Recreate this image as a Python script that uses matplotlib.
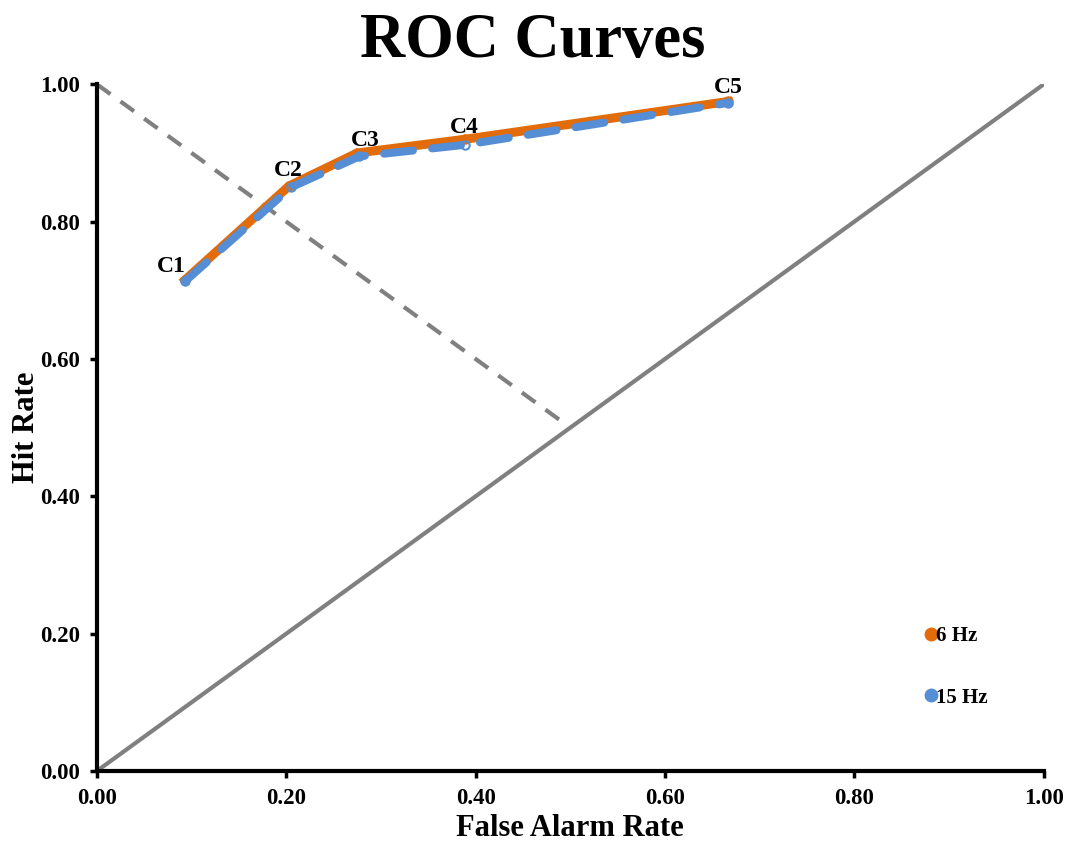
import matplotlib
matplotlib.use("Agg")
import matplotlib.pyplot as plt
from matplotlib.lines import Line2D

point_labels = ["C1", "C2", "C3", "C4", "C5"]
far_6hz = [0.093, 0.203, 0.275, 0.389, 0.667]
hit_6hz = [0.715, 0.852, 0.900, 0.920, 0.975]
far_15hz = [0.093, 0.205, 0.277, 0.389, 0.667]
hit_15hz = [0.713, 0.850, 0.895, 0.912, 0.973]
chance_x = [0.0, 1.0]
chance_y = [0.0, 1.0]
neg_diag_x = [0.0, 0.5]
neg_diag_y = [1.0, 0.5]
ticks = [0.0, 0.2, 0.4, 0.6, 0.8, 1.0]

plt.rcParams['font.family'] = ['Liberation Serif', 'DejaVu Serif']
plt.rcParams['font.weight'] = 'bold'

fig = plt.figure(figsize=(10.65, 8.43), dpi=100)
ax = fig.add_axes([0.091, 0.0854, 0.889, 0.8146])

orange = '#E36C0A'
blue = '#558ED5'
grey = '#808080'

ax.plot(chance_x, chance_y, color=grey, lw=3, zorder=1)
ax.plot(neg_diag_x, neg_diag_y, color=grey, lw=3, ls=(0, (4, 3)), zorder=1)

ax.plot(far_6hz, hit_6hz, color=orange, lw=6.5, marker='o', ms=6,
        mfc='none', mec=orange, mew=1.5, zorder=2, solid_joinstyle='round')
ax.plot(far_15hz, hit_15hz, color=blue, lw=5.8, ls=(0, (3.6, 2.4)),
        dash_capstyle='round', marker='o', ms=6, mfc='none', mec=blue,
        mew=1.5, zorder=3)

offsets = [(-0.014, 0.02), (-0.001, 0.022), (0.008, 0.018), (-0.001, 0.017), (0.0, 0.02)]
for lab, x, y, (dx, dy) in zip(point_labels, far_6hz, hit_6hz, offsets):
    ax.text(x + dx, y + dy, lab, ha='center', va='center', fontsize=17,
            fontweight='bold')

ax.set_xlim(0, 1)
ax.set_ylim(0, 1)
ax.set_xticks(ticks)
ax.set_yticks(ticks)
ax.set_xticklabels([f"{t:.2f}" for t in ticks])
ax.set_yticklabels([f"{t:.2f}" for t in ticks])
ax.tick_params(labelsize=16.5, width=2.5, length=5, direction='out', colors='black', pad=7)
for lab in ax.get_xticklabels() + ax.get_yticklabels():
    lab.set_fontweight('bold')

for s in ['top', 'right']:
    ax.spines[s].set_visible(False)
for s in ['left', 'bottom']:
    ax.spines[s].set_linewidth(3)
    ax.spines[s].set_color('black')

ax.set_xlabel("False Alarm Rate", fontsize=22, fontweight='bold')
ax.set_ylabel("Hit Rate", fontsize=22, fontweight='bold')
ax.xaxis.set_label_coords(0.5, -0.062)
ax.yaxis.set_label_coords(-0.059, 0.5)

fig.suptitle("ROC Curves", fontsize=45, fontweight='bold', x=0.5, y=0.985)

handles = [Line2D([], [], color=orange, marker='o', ls='none', ms=9),
           Line2D([], [], color=blue, marker='o', ls='none', ms=9)]
ax.legend(handles, ["6 Hz", "15 Hz"], loc='lower left', bbox_to_anchor=(0.848, 0.065),
          frameon=False, prop={'size': 15, 'weight': 'bold'}, handletextpad=-0.35,
          handlelength=1.2, labelspacing=2.0)

fig.savefig("out.png", dpi=100, facecolor='white')
